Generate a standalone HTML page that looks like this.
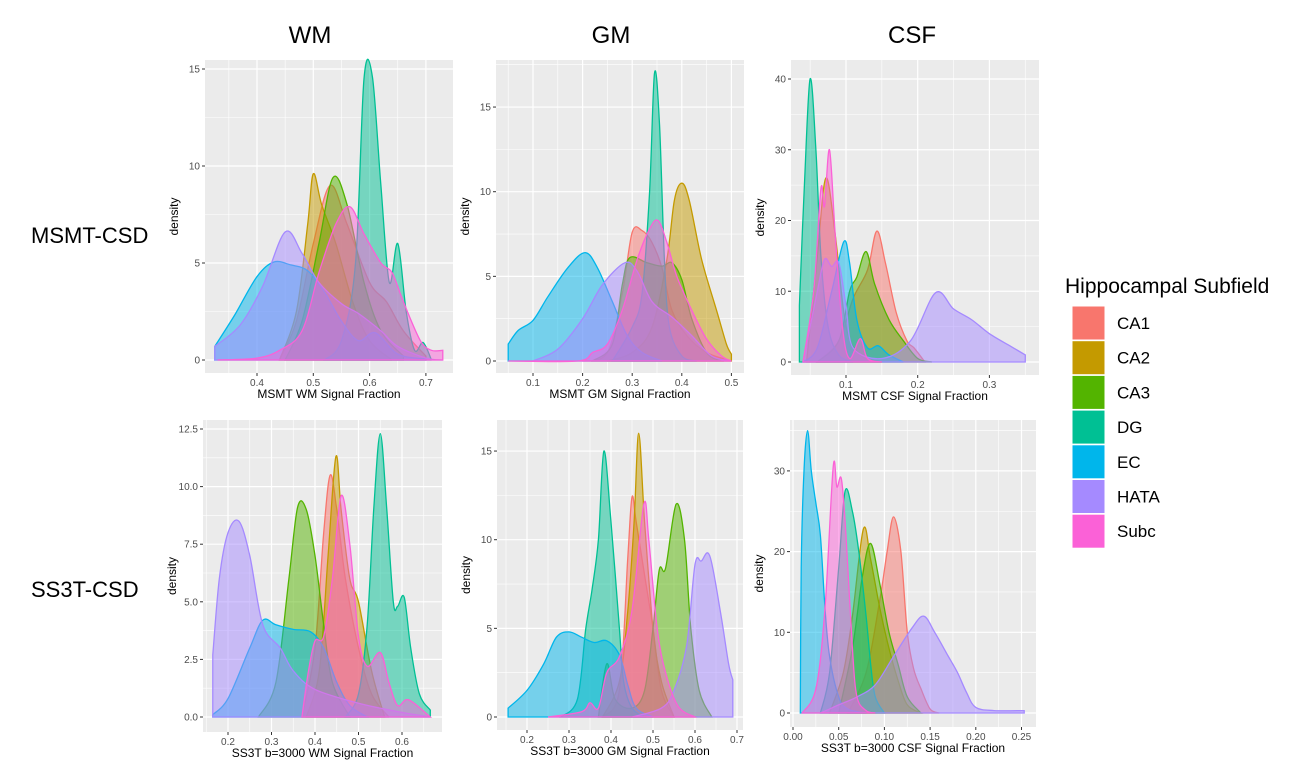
<!DOCTYPE html>
<html><head><meta charset="utf-8"><style>
body{margin:0;background:#fff;width:1311px;height:775px;overflow:hidden;font-family:"Liberation Sans",sans-serif}
svg text{font-family:"Liberation Sans",sans-serif}
</style></head><body>
<svg id="chart" width="1311" height="775" xmlns="http://www.w3.org/2000/svg">
<text x="310" y="43" font-size="24" text-anchor="middle">WM</text>
<text x="611" y="43" font-size="24" text-anchor="middle">GM</text>
<text x="912" y="43" font-size="24" text-anchor="middle">CSF</text>
<text x="31" y="243" font-size="22">MSMT-CSD</text>
<text x="31" y="597" font-size="22">SS3T-CSD</text>
<g id="legend">
<text x="1065" y="293" font-size="21">Hippocampal Subfield</text>
</g>
</svg>
<script>
const groups = ['CA1','CA2','CA3','DG','EC','HATA','Subc'];
const colors = ['#F8766D','#C49A00','#53B400','#00C094','#00B6EB','#A58AFF','#FB61D7'];

// WM MSMT
const wmTopX = {
 CA1:[0.44,0.47,0.50,0.53,0.56,0.60,0.63,0.66,0.70],
 CA2:[0.44,0.47,0.49,0.50,0.515,0.54,0.57,0.60,0.64],
 CA3:[0.45,0.48,0.51,0.535,0.56,0.59,0.62,0.66],
 DG:[0.52,0.55,0.575,0.59,0.605,0.62,0.635,0.65,0.665,0.68,0.695,0.71],
 EC:[0.325,0.36,0.40,0.43,0.46,0.49,0.52,0.55,0.58,0.61,0.65,0.70],
 HATA:[0.325,0.37,0.41,0.45,0.48,0.51,0.55,0.58,0.62,0.65,0.70,0.73],
 Subc:[0.33,0.40,0.44,0.48,0.51,0.54,0.565,0.59,0.62,0.64,0.66,0.69,0.71,0.73]};
const wmTopY = {
 CA1:[0,2,6,9,7,4,3,1.5,0.2],
 CA2:[0,2.5,7,9.6,8,6,3,1,0],
 CA3:[0,2,6,9.4,8,4,1.5,0.2],
 DG:[0,1,5,14.5,14.6,9,4,6,2.5,0.5,0.9,0],
 EC:[0.7,2.3,4.3,5.05,4.9,4.6,3.5,2,1,1.4,0.3,0.05],
 HATA:[0.7,1.8,3.8,6.6,5.5,4,2.9,2.4,1.5,0.7,0.1,0],
 Subc:[0,0.1,0.5,1.5,4.5,7,7.9,6.5,5,4.5,3,1,0.5,0.5]};
// WM SS3T
const wmBotX = {
 CA1:[0.37,0.40,0.42,0.435,0.45,0.47,0.50,0.53,0.57],
 CA2:[0.38,0.41,0.43,0.448,0.46,0.48,0.50,0.53,0.56],
 CA3:[0.27,0.31,0.34,0.36,0.38,0.40,0.42,0.44,0.48],
 DG:[0.47,0.50,0.52,0.535,0.55,0.565,0.58,0.59,0.605,0.62,0.64,0.665],
 EC:[0.165,0.20,0.25,0.28,0.31,0.35,0.39,0.42,0.45,0.48,0.52],
 HATA:[0.165,0.18,0.20,0.225,0.25,0.28,0.32,0.35,0.40,0.50,0.60,0.665],
 Subc:[0.37,0.385,0.40,0.42,0.44,0.46,0.48,0.50,0.52,0.55,0.57,0.59,0.615,0.665]};
const wmBotY = {
 CA1:[0,3,8,10.5,9,6,3,1,0],
 CA2:[0,2,7,11.3,9,6,5,2,0],
 CA3:[0,1.5,6,9.1,9,7,4,1.5,0],
 DG:[0,1,4,9,12.3,9,5,4.8,5.2,3,1,0.3],
 EC:[0.1,0.8,3,4.2,4,3.8,3.7,3,1.5,0.5,0],
 HATA:[2.7,6,8,8.5,7,4,3,2,1.2,0.6,0.2,0],
 Subc:[0,2,3.3,3.5,6,9.6,7.5,3.5,2.2,2.8,1.5,0.5,0.75,0]};
// GM MSMT
const gmTopX = {
 CA1:[0.2,0.25,0.28,0.30,0.32,0.34,0.36,0.38,0.41,0.45,0.5],
 CA2:[0.25,0.30,0.34,0.37,0.385,0.40,0.415,0.44,0.47,0.49,0.50],
 CA3:[0.22,0.26,0.28,0.295,0.33,0.36,0.38,0.40,0.42,0.45,0.48],
 DG:[0.26,0.30,0.32,0.335,0.345,0.355,0.365,0.375,0.40,0.43],
 EC:[0.05,0.07,0.10,0.13,0.17,0.205,0.23,0.26,0.29,0.32,0.36],
 HATA:[0.10,0.15,0.20,0.24,0.285,0.31,0.34,0.38,0.42,0.46,0.50],
 Subc:[0.05,0.19,0.22,0.25,0.28,0.31,0.335,0.352,0.37,0.39,0.42,0.45,0.48,0.50]};
const gmTopY = {
 CA1:[0,0.5,4,7.6,7.7,7,5.5,3,1.5,0.5,0],
 CA2:[0,0.5,2,6,9.5,10.5,9.5,6,3,1,0.4],
 CA3:[0,1,4.5,6.1,5.8,5.6,5.8,4.8,2.5,0.5,0],
 DG:[0,2,4,10,17,14,6,2,0.3,0],
 EC:[1,1.8,2.4,3.8,5.5,6.4,5.5,3.5,1.5,0.5,0],
 HATA:[0,0.7,2.5,4.5,5.8,5.3,3.5,2.6,1.5,0.3,0],
 Subc:[0,0,0.5,1,3,6,7.8,8.3,7,5,3,1.3,0.3,0]};
// GM SS3T
const gmBotX = {
 CA1:[0.38,0.42,0.44,0.45,0.46,0.48,0.50,0.52,0.55],
 CA2:[0.38,0.42,0.44,0.455,0.466,0.48,0.50,0.52,0.55],
 CA3:[0.37,0.39,0.41,0.45,0.48,0.50,0.515,0.53,0.555,0.575,0.59,0.61,0.64],
 DG:[0.28,0.32,0.34,0.355,0.37,0.383,0.40,0.42,0.43,0.45,0.48],
 EC:[0.155,0.2,0.24,0.27,0.30,0.33,0.36,0.39,0.42,0.44,0.46,0.50],
 HATA:[0.45,0.52,0.55,0.58,0.60,0.615,0.635,0.66,0.68,0.69],
 Subc:[0.25,0.33,0.35,0.37,0.39,0.42,0.45,0.478,0.49,0.51,0.53,0.56,0.60]};
const gmBotY = {
 CA1:[0,1.5,9,12.4,11,8,5,1.5,0],
 CA2:[0,2,6,11,16,11,5,2,0],
 CA3:[0,3,1,0.5,1.5,5,8.3,8.4,12,10,5,1.5,0],
 DG:[0,1,5,7.2,10,15,11,5,2,0.5,0],
 EC:[0.5,1.5,3,4.5,4.8,4.5,4.2,4.3,3.5,1.8,0.5,0],
 HATA:[0,0.5,1.5,4,8.6,8.8,9.1,6,3,2.1],
 Subc:[0,0.3,0.8,0.5,2.5,3.4,6,12,10,5,2.5,0.6,0]};
// CSF MSMT
const csfTopX = {
 CA1:[0.06,0.09,0.11,0.13,0.143,0.155,0.17,0.185,0.195,0.21],
 CA2:[0.045,0.06,0.072,0.085,0.10,0.12,0.15],
 CA3:[0.06,0.09,0.105,0.115,0.128,0.14,0.16,0.18,0.20,0.22],
 DG:[0.035,0.042,0.05,0.058,0.065,0.075,0.09,0.11],
 EC:[0.04,0.06,0.08,0.097,0.105,0.115,0.13,0.145,0.16,0.18],
 HATA:[0.04,0.06,0.07,0.08,0.09,0.10,0.11,0.15,0.19,0.225,0.25,0.275,0.30,0.33,0.35],
 Subc:[0.04,0.055,0.065,0.07,0.077,0.085,0.095,0.105,0.12,0.13,0.15]};
const csfTopY = {
 CA1:[0,3,9,13,18.5,14,7,3,2,0],
 CA2:[0,15,26,18,5,1,0],
 CA3:[0,3,10,12,15.6,11,6,3,0.5,0],
 DG:[8,25,40,30,15,5,1,0],
 EC:[0,2,10,17,14,6,2,2.3,1,0],
 HATA:[0,10,14.5,13.5,14,8,2,0.5,3,9.8,7.5,6,4,2.2,1],
 Subc:[0,10,24.5,22,30,18,5,0.5,3.3,0.5,0]};
// CSF SS3T
const csfBotX = {
 CA1:[0.06,0.08,0.095,0.103,0.11,0.118,0.125,0.132,0.14,0.15,0.16],
 CA2:[0.04,0.055,0.065,0.077,0.085,0.095,0.105,0.115,0.125,0.14],
 CA3:[0.05,0.065,0.076,0.085,0.095,0.105,0.115,0.125,0.14],
 DG:[0.03,0.04,0.05,0.057,0.065,0.072,0.08,0.085,0.09,0.10],
 EC:[0.008,0.009,0.012,0.016,0.02,0.025,0.03,0.035,0.04,0.05,0.06,0.08],
 HATA:[0.03,0.05,0.07,0.09,0.11,0.13,0.143,0.155,0.17,0.18,0.19,0.20,0.22,0.253],
 Subc:[0.01,0.025,0.035,0.044,0.048,0.053,0.058,0.065,0.07,0.08,0.09]};
const csfBotY = {
 CA1:[0,5,14,20,24.3,20,10,5.5,3,0.5,0],
 CA2:[0,5,12,22.8,19,13,8,4,1,0],
 CA3:[0,8,17,21,16,10,6,2,0],
 DG:[0,5,18,27.5,25,20,12,6,2,0],
 EC:[0,18,30,35,30,26,22,13,7,2,0.5,0],
 HATA:[0,1,2,3.5,7,10.5,12,10,7,5,2.5,0.7,0.3,0.3],
 Subc:[0,3,13,30.5,28,29,22,8,2,0.3,0]};

const wmTopTicksX=[0.4,0.5,0.6,0.7], wmTopTicksY=[0,5,10,15];
const wmBotTicksX=[0.2,0.3,0.4,0.5,0.6], wmBotTicksY=[0,2.5,5,7.5,10,12.5];
const gmTopTicksX=[0.1,0.2,0.3,0.4,0.5], gmTopTicksY=[0,5,10,15];
const gmBotTicksX=[0.2,0.3,0.4,0.5,0.6,0.7], gmBotTicksY=[0,5,10,15];
const csfTopTicksX=[0.1,0.2,0.3], csfTopTicksY=[0,10,20,30,40];
const csfBotTicksX=[0,0.05,0.1,0.15,0.2,0.25], csfBotTicksY=[0,10,20,30];

const panels=[
 {name:'wm-msmt',X:wmTopX,Y:wmTopY,tx:wmTopTicksX,ty:wmTopTicksY,dx:1,dy:0,r:[205,60,453,373],xv:0.4,xp:257,xs:563,y0:360,ys:19.4,title:'MSMT WM Signal Fraction'},
 {name:'wm-ss3t',X:wmBotX,Y:wmBotY,tx:wmBotTicksX,ty:wmBotTicksY,dx:1,dy:1,r:[203,420,442,732],xv:0.2,xp:228,xs:435,y0:717,ys:23.04,title:'SS3T b=3000 WM Signal Fraction'},
 {name:'gm-msmt',X:gmTopX,Y:gmTopY,tx:gmTopTicksX,ty:gmTopTicksY,dx:1,dy:0,r:[496,60,744,373],xv:0.1,xp:533,xs:496,y0:361,ys:16.93,title:'MSMT GM Signal Fraction'},
 {name:'gm-ss3t',X:gmBotX,Y:gmBotY,tx:gmBotTicksX,ty:gmBotTicksY,dx:1,dy:0,r:[497,420,743,730],xv:0.2,xp:527,xs:420,y0:717,ys:17.73,title:'SS3T b=3000 GM Signal Fraction'},
 {name:'csf-msmt',X:csfTopX,Y:csfTopY,tx:csfTopTicksX,ty:csfTopTicksY,dx:1,dy:0,r:[791,60,1039,375],xv:0.1,xp:846,xs:717,y0:362,ys:7.075,title:'MSMT CSF Signal Fraction'},
 {name:'csf-ss3t',X:csfBotX,Y:csfBotY,tx:csfBotTicksX,ty:csfBotTicksY,dx:2,dy:0,r:[790,420,1036,727],xv:0,xp:793,xs:914,y0:713,ys:8.07,title:'SS3T b=3000 CSF Signal Fraction'}
];
const NS='http://www.w3.org/2000/svg';
const svg=document.getElementById('chart');
function mk(tag,attrs,parent){const e=document.createElementNS(NS,tag);for(const k in attrs)e.setAttribute(k,attrs[k]);(parent||svg).appendChild(e);return e;}
function curve(pts){let d='M'+pts[0][0]+','+pts[0][1];
 for(let i=0;i<pts.length-1;i++){const p0=pts[Math.max(0,i-1)],p1=pts[i],p2=pts[i+1],p3=pts[Math.min(pts.length-1,i+2)];
  const c1x=p1[0]+(p2[0]-p0[0])/6,c1y=p1[1]+(p2[1]-p0[1])/6,c2x=p2[0]-(p3[0]-p1[0])/6,c2y=p2[1]-(p3[1]-p1[1])/6;
  d+=' C'+c1x.toFixed(1)+','+c1y.toFixed(1)+' '+c2x.toFixed(1)+','+c2y.toFixed(1)+' '+p2[0].toFixed(1)+','+p2[1].toFixed(1);}
 return d;}
panels.forEach(p=>{
 const g=mk('g',{});
 
 
 const sx=v=>p.xp+(v-p.xv)*p.xs, sy=v=>p.y0-v*p.ys;
 const [L,T,R,B]=p.r;
 const bg=mk('rect',{x:L,y:T,width:R-L,height:B-T,fill:'#EBEBEB'},g);
 
 
 const stepX=p.tx[1]-p.tx[0], stepY=p.ty[1]-p.ty[0];
 for(let v=p.tx[0]-stepX/2;v<=p.tx[p.tx.length-1]+stepX;v+=stepX){const x=sx(v);if(x>L&&x<R)mk('line',{x1:x,x2:x,y1:T,y2:B,stroke:'#fff','stroke-width':0.6},g);}
 for(let v=p.ty[0]+stepY/2;v<=p.ty[p.ty.length-1]+stepY;v+=stepY){const y=sy(v);if(y>T&&y<B)mk('line',{x1:L,x2:R,y1:y,y2:y,stroke:'#fff','stroke-width':0.6},g);}
 p.tx.forEach(v=>{const x=sx(v);mk('line',{x1:x,x2:x,y1:T,y2:B,stroke:'#fff','stroke-width':1.2},g);
  mk('line',{x1:x,x2:x,y1:B,y2:B+3,stroke:'#333','stroke-width':1},g);
  const t=mk('text',{x:x,y:B+13,'font-size':10,fill:'#4D4D4D','text-anchor':'middle'},g);t.textContent=v.toFixed(p.dx);
  
  });
 p.ty.forEach(v=>{const y=sy(v);mk('line',{x1:L,x2:R,y1:y,y2:y,stroke:'#fff','stroke-width':1.2},g);
  mk('line',{x1:L-3,x2:L,y1:y,y2:y,stroke:'#333','stroke-width':1},g);
  const t=mk('text',{x:L-5,y:y+3.5,'font-size':10,fill:'#4D4D4D','text-anchor':'end'},g);t.textContent=v.toFixed(p.dy);
  
  });
 groups.forEach((gr,i)=>{const xs=p.X[gr],ys=p.Y[gr];
  const pts=xs.map((x,j)=>[sx(x),sy(ys[j])]);
  let d=curve(pts);const base=sy(0);
  const area=mk('path',{d:d+' L'+pts[pts.length-1][0]+','+base+' L'+pts[0][0]+','+base+' Z',fill:colors[i],'fill-opacity':0.5,stroke:colors[i],'stroke-width':1.3},g);
  
  });
 const xt=mk('text',{x:(L+R)/2,y:B+25,'font-size':12,fill:'#000','text-anchor':'middle'},g);xt.textContent=p.title;
 
 
 const yx=L-27,yy=(T+B)/2;
 const yt=mk('text',{x:yx,y:yy,'font-size':12,fill:'#000','text-anchor':'middle',transform:'rotate(-90 '+yx+' '+yy+')'},g);yt.textContent='density';
 
 
});
const leg=document.getElementById('legend');
groups.forEach((gr,i)=>{const y=306+i*34.7;
 const r=mk('rect',{x:1072,y:y,width:33,height:34,fill:colors[i],stroke:'#fff','stroke-width':1},leg);
 
 
 const t=mk('text',{x:1117,y:y+23,'font-size':17},leg);t.textContent=gr;
 
 });
</script>
</body></html>
